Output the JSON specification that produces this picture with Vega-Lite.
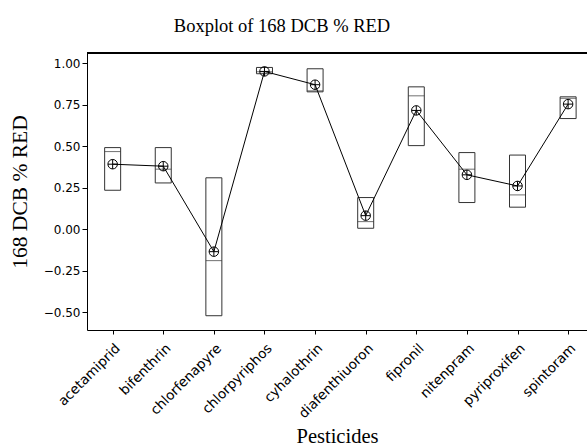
{
  "$schema": "https://vega.github.io/schema/vega-lite/v6.json",
  "autosize": "none",
  "width": 500,
  "height": 277,
  "padding": {"left": 87, "top": 53, "right": 0, "bottom": 116},
  "background": "white",
  "title": {
    "text": "Boxplot of 168 DCB % RED",
    "font": "Liberation Serif",
    "fontSize": 18.5,
    "fontWeight": "normal",
    "color": "black",
    "anchor": "middle",
    "baseline": "alphabetic",
    "offset": 2,
    "dx": -55
  },
  "config": {
    "view": {"stroke": null},
    "axis": {
      "domainColor": "black",
      "tickColor": "black",
      "labelColor": "black",
      "titleColor": "black",
      "grid": false,
      "labelFont": "DejaVu Sans",
      "labelFontSize": 12,
      "titleFont": "Liberation Serif",
      "titleFontWeight": "normal"
    }
  },
  "data": {
    "values": [
      {"pesticide": "acetamiprid", "q1": 0.236, "median": 0.469, "q3": 0.493, "mean": 0.393},
      {"pesticide": "bifenthrin", "q1": 0.280, "median": 0.363, "q3": 0.493, "mean": 0.381},
      {"pesticide": "chlorfenapyre", "q1": -0.520, "median": -0.188, "q3": 0.311, "mean": -0.134},
      {"pesticide": "chlorpyriphos", "q1": 0.938, "median": 0.950, "q3": 0.976, "mean": 0.952},
      {"pesticide": "cyhalothrin", "q1": 0.829, "median": 0.835, "q3": 0.968, "mean": 0.872},
      {"pesticide": "diafenthiuoron", "q1": 0.007, "median": 0.047, "q3": 0.192, "mean": 0.083},
      {"pesticide": "fipronil", "q1": 0.505, "median": 0.805, "q3": 0.859, "mean": 0.717},
      {"pesticide": "nitenpram", "q1": 0.162, "median": 0.363, "q3": 0.463, "mean": 0.329},
      {"pesticide": "pyriproxifen", "q1": 0.134, "median": 0.208, "q3": 0.448, "mean": 0.262},
      {"pesticide": "spintoram", "q1": 0.668, "median": 0.790, "q3": 0.799, "mean": 0.755}
    ]
  },
  "layer": [
    {
      "mark": {"type": "bar", "size": 16, "fill": "transparent", "stroke": "#333", "strokeWidth": 1},
      "encoding": {
        "x": {
          "field": "pesticide", "type": "nominal", "sort": null,
          "scale": {"type": "point", "padding": 0.44, "align": 0.576},
          "axis": {"orient": "bottom", "labelAngle": -45, "tickSize": 4, "labelPadding": 7, "labelFontSize": 13.5, "title": "Pesticides", "titleFontSize": 20.5, "titlePadding": 6}
        },
        "y": {
          "field": "q3", "type": "quantitative",
          "scale": {"domain": [-0.606, 1.063], "nice": false, "zero": false},
          "axis": {"values": [-0.5, -0.25, 0, 0.25, 0.5, 0.75, 1], "format": ".2f", "tickSize": 5, "labelPadding": 2, "title": "168 DCB % RED", "titleFontSize": 21.5, "titlePadding": 12}
        },
        "y2": {"field": "q1"}
      }
    },
    {
      "mark": {"type": "rule", "color": "black", "strokeWidth": 1},
      "encoding": {
        "y": {"datum": 1.063, "type": "quantitative"}
      }
    },
    {
      "mark": {"type": "tick", "size": 16, "thickness": 1, "color": "#333"},
      "encoding": {
        "x": {"field": "pesticide", "type": "nominal", "sort": null},
        "y": {"field": "median", "type": "quantitative"}
      }
    },
    {
      "mark": {"type": "line", "color": "black", "strokeWidth": 1},
      "encoding": {
        "x": {"field": "pesticide", "type": "nominal", "sort": null},
        "y": {"field": "mean", "type": "quantitative"}
      }
    },
    {
      "mark": {"type": "point", "shape": "circle", "size": 90, "filled": false, "color": "black", "strokeWidth": 1, "opacity": 1},
      "encoding": {
        "x": {"field": "pesticide", "type": "nominal", "sort": null},
        "y": {"field": "mean", "type": "quantitative"}
      }
    },
    {
      "mark": {"type": "point", "shape": "M-1,0L1,0M0,-1L0,1", "size": 90, "filled": false, "color": "black", "strokeWidth": 1, "opacity": 1},
      "encoding": {
        "x": {"field": "pesticide", "type": "nominal", "sort": null},
        "y": {"field": "mean", "type": "quantitative"}
      }
    }
  ]
}
